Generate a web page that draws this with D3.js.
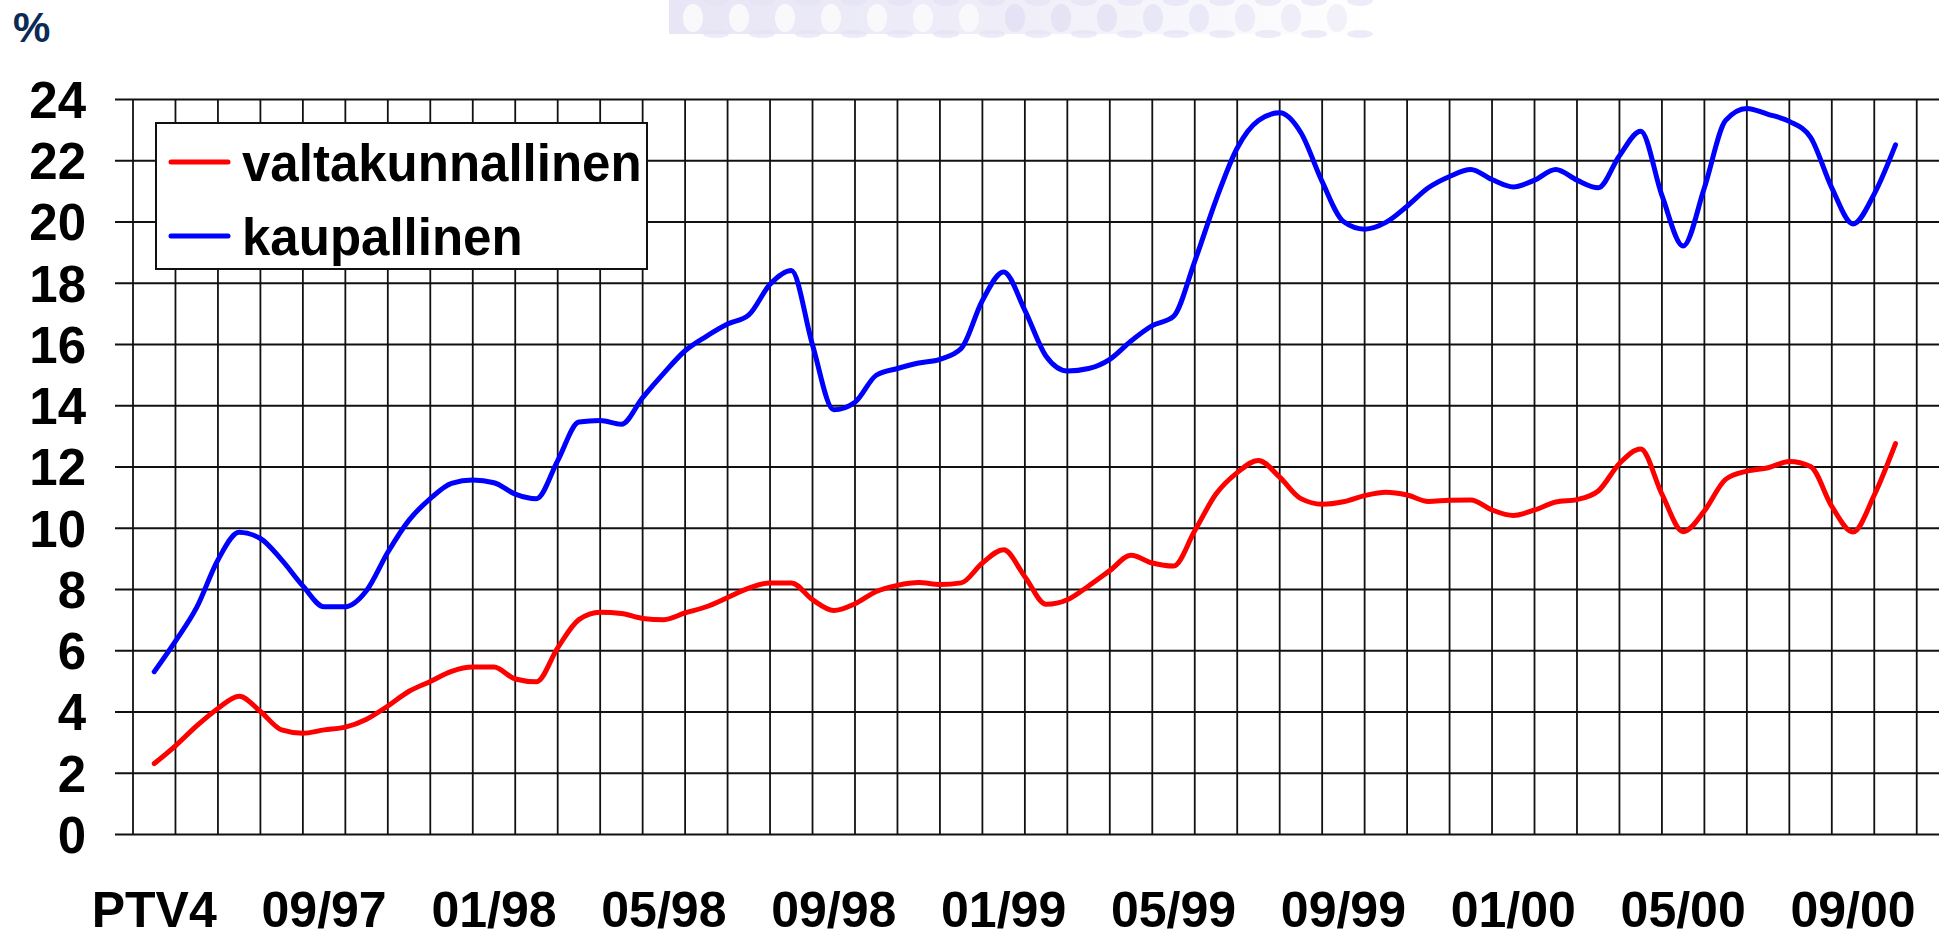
<!DOCTYPE html>
<html>
<head>
<meta charset="utf-8">
<script src="https://cdn.jsdelivr.net/npm/d3@7"></script>
<style>
  body { margin: 0; background: #fff; }
  svg { display: block; font-family: "Liberation Sans", Arial, sans-serif; font-weight: bold; }
</style>
</head>
<body>
<div id="graph"></div>
<script>
// month labels (every 4th month), first one is the PTV4 start (05/97)
var xLabels = ["PTV4", "09/97", "01/98", "05/98", "09/98", "01/99", "05/99", "09/99", "01/00", "05/00", "09/00"];
var yTicks = [0, 2, 4, 6, 8, 10, 12, 14, 16, 18, 20, 22, 24];
var seriesNames = ["valtakunnallinen", "kaupallinen"];

// readings every half month, starting mid 05/97 (month index 0.5)
var valtakunnallinen = [2.3, 2.88, 3.53, 4.1, 4.5, 4.0, 3.4, 3.29, 3.4, 3.49,
  3.75, 4.18, 4.66, 4.98, 5.31, 5.45, 5.45, 5.06, 4.97, 6.08,
  7.0, 7.24, 7.2, 7.04, 7.0, 7.22, 7.42, 7.72, 8.03, 8.2,
  8.2, 7.65, 7.3, 7.52, 7.92, 8.12, 8.21, 8.15, 8.2, 8.85,
  9.28, 8.4, 7.5, 7.65, 8.1, 8.6, 9.1, 8.85, 8.75, 9.9,
  11.1, 11.8, 12.2, 11.65, 10.95, 10.77, 10.85, 11.05, 11.16, 11.07,
  10.86, 10.9, 10.91, 10.58, 10.4, 10.58, 10.84, 10.92, 11.2, 12.1,
  12.57, 11.1, 9.87, 10.55, 11.58, 11.85, 11.96, 12.16, 12.0, 10.7,
  9.86, 11.07, 12.75];
var kaupallinen = [5.3, 6.3, 7.4, 8.95, 9.85, 9.65, 8.95, 8.1, 7.42, 7.42,
  7.95, 9.2, 10.25, 10.95, 11.45, 11.56, 11.47, 11.1, 10.95, 12.19,
  13.45, 13.5, 13.38, 14.25, 15.05, 15.78, 16.25, 16.65, 16.95, 17.95,
  18.4, 15.97, 13.85, 14.1, 14.98, 15.2, 15.38, 15.5, 15.85, 17.42,
  18.35, 17.1, 15.6, 15.12, 15.2, 15.5, 16.1, 16.6, 16.9, 18.7,
  20.7, 22.4, 23.3, 23.55, 22.9, 21.3, 20.0, 19.75, 19.97, 20.5,
  21.1, 21.47, 21.7, 21.37, 21.13, 21.35, 21.7, 21.35, 21.1, 22.15,
  22.95, 20.85, 19.2, 21.1, 23.3, 23.69, 23.5, 23.27, 22.75, 21.1,
  19.92, 20.9, 22.5];

const WIDTH = 1939, HEIGHT = 939;
const N_MONTHS = 43;

var svg = d3.select("#graph").append("svg")
  .attr("width", WIDTH).attr("height", HEIGHT);

// decorative band at the top (slide background)
var defs = svg.append("defs");
var grad = defs.append("linearGradient").attr("id", "band");
grad.append("stop").attr("offset", "0%").attr("stop-color", "#e8e6f6");
grad.append("stop").attr("offset", "45%").attr("stop-color", "#eeedf8");
grad.append("stop").attr("offset", "100%").attr("stop-color", "#ffffff");
var deco = svg.append("g");
deco.append("rect").attr("x", 669).attr("y", 0).attr("width", 704).attr("height", 34)
  .attr("fill", "url(#band)");
d3.range(15).forEach(function (i) {
  var cx = 693 + i * 46;
  var left = i < 7;
  deco.append("ellipse").attr("cx", cx).attr("cy", 18).attr("rx", 10).attr("ry", 14)
    .attr("fill", left ? "#f9f9fc" : "#e2e0f3").attr("opacity", left ? 1 : 0.9 - (i - 7) * 0.07);
  deco.append("ellipse").attr("cx", cx + 23).attr("cy", 0).attr("rx", 13).attr("ry", 6)
    .attr("fill", "#e4e2f4").attr("opacity", 0.7);
  deco.append("ellipse").attr("cx", cx + 23).attr("cy", 34).attr("rx", 13).attr("ry", 4)
    .attr("fill", "#e4e2f4").attr("opacity", 0.7);
});

svg.append("text").attr("x", 13).attr("y", 42)
  .attr("font-size", 42).attr("fill", "#0b2a55").text("%");

// scales
var x = d3.scaleLinear().domain([0, N_MONTHS]).range([133, 133 + N_MONTHS * 42.47]);
var y = d3.scaleLinear().domain([0, 24]).range([834, 99]);

// grid: horizontal lines with small ticks to the left
var yAxis = d3.axisLeft(y).tickValues(yTicks).tickSize(-(WIDTH - 115)).tickPadding(30)
  .tickFormat(d3.format("d"));
var gy = svg.append("g").attr("transform", "translate(115,0)").call(yAxis);
gy.select(".domain").remove();
gy.selectAll(".tick line").attr("stroke", "#111").attr("stroke-width", 2);
gy.selectAll(".tick text").attr("x", -29).attr("font-size", 51).attr("fill", "#000")
  .attr("dy", "0.36em");

// vertical month lines
svg.append("g").selectAll("line").data(d3.range(0, N_MONTHS + 1)).join("line")
  .attr("x1", d => x(d)).attr("x2", d => x(d))
  .attr("y1", y(24)).attr("y2", y(0))
  .attr("stroke", "#111").attr("stroke-width", 1.8);

// month labels
svg.append("g").selectAll("text").data(xLabels).join("text")
  .attr("x", (d, i) => x(i * 4 + 0.5)).attr("y", 927)
  .attr("text-anchor", "middle").attr("font-size", 50).text(d => d);

// series
var line = d3.line().curve(d3.curveMonotoneX)
  .x((d, i) => x(0.5 + i * 0.5)).y(d => y(d));
var colors = ["#ff0000", "#0000ff"];
[valtakunnallinen, kaupallinen].forEach(function (s, k) {
  svg.append("path").attr("d", line(s)).attr("fill", "none")
    .attr("stroke", colors[k]).attr("stroke-width", 5)
    .attr("stroke-linejoin", "round").attr("stroke-linecap", "round");
});

// legend
var lg = svg.append("g");
lg.append("rect").attr("x", 156).attr("y", 123).attr("width", 491).attr("height", 146)
  .attr("fill", "#fff").attr("stroke", "#111").attr("stroke-width", 2);
seriesNames.forEach(function (name, k) {
  var ly = 162 + k * 74;
  lg.append("line").attr("x1", 171).attr("x2", 228).attr("y1", ly).attr("y2", ly)
    .attr("stroke", colors[k]).attr("stroke-width", 5).attr("stroke-linecap", "round");
  lg.append("text").attr("x", 242).attr("y", ly + 19).attr("font-size", 51).text(name);
});
</script>
</body>
</html>
